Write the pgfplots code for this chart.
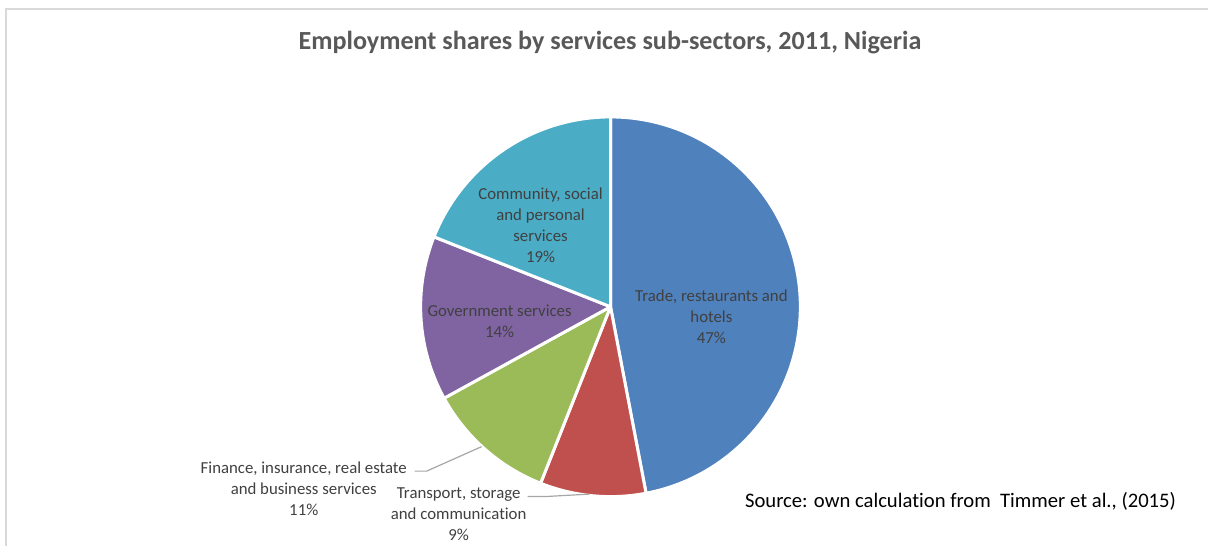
\documentclass[border=0pt]{standalone}
\usepackage{pgfplots}
\pgfplotsset{compat=1.18}
\usepackage{fontspec}
\setmainfont{Carlito}[Ligatures={NoCommon}]

\definecolor{cTrade}{HTML}{4F81BD}
\definecolor{cTransport}{HTML}{C0504D}
\definecolor{cFinance}{HTML}{9BBB59}
\definecolor{cGovernment}{HTML}{8064A2}
\definecolor{cCommunity}{HTML}{4BACC6}
\definecolor{labelgray}{HTML}{404040}
\definecolor{titlegray}{HTML}{595959}
\definecolor{leadergray}{HTML}{A6A6A6}
\definecolor{framegray}{HTML}{D9D9D9}

% pie geometry (axis units)
\newcommand{\pieCX}{611}
\newcommand{\pieCY}{307}
\newcommand{\pieR}{190}
\gdef\piecum{0}

% one slice: share in percent, fill colour; slices run clockwise from 12 o'clock
\newcommand{\pieslice}[2]{%
  \pgfmathsetmacro\angA{90-3.6*\piecum}%
  \pgfmathsetmacro\angB{90-3.6*(\piecum+#1)}%
  \edef\doslice{\noexpand\addplot[fill=#2, draw=white, line width=2.25pt,
      line join=round, domain=\angB:\angA, samples=120, variable=\noexpand\t]
    ({\pieCX+\pieR*cos(\noexpand\t)},{\pieCY-\pieR*sin(\noexpand\t)})
    -- (axis cs:\pieCX,\pieCY) -- cycle;}%
  \doslice
  \pgfmathsetmacro\newcum{\piecum+#1}%
  \xdef\piecum{\newcum}%
}

\begin{document}
\begin{tikzpicture}
\begin{axis}[
  x=0.75pt, y=0.75pt,
  xmin=0, xmax=1209, ymin=0, ymax=546,
  y dir=reverse,
  hide axis,
  clip=false,
  every node/.style={inner sep=0pt},
]
  % invisible box fixing the extent
  \path (axis cs:0,0) rectangle (axis cs:1209,546);

  % chart frame
  \draw[framegray, line width=1.5pt] (axis cs:6.5,546) -- (axis cs:6.5,9) -- (axis cs:1209,9);

  % employment shares (%)
  \pieslice{47}{cTrade}
  \pieslice{9}{cTransport}
  \pieslice{11}{cFinance}
  \pieslice{14}{cGovernment}
  \pieslice{19}{cCommunity}

  % title
  \node[anchor=base, text=titlegray, font=\fontsize{19.6}{23}\selectfont\bfseries]
    at (axis cs:610.5,50) {Employment shares by services sub-sectors, 2011, Nigeria};

  % data labels inside slices
  \begin{scope}[every node/.style={align=center, text=labelgray,
      font=\fontsize{12.6}{15.75}\selectfont}]
    \node at (axis cs:712,317) {Trade, restaurants and\\hotels\\47\%};
    \node at (axis cs:541,225) {Community, social\\and personal\\services\\19\%};
    \node at (axis cs:500,322) {Government services\\14\%};
    \node at (axis cs:304,489) {Finance, insurance, real estate\\and business services\\11\%};
    \node at (axis cs:459,515) {Transport, storage\\and communication\\9\%};
  \end{scope}

  % leader lines
  \draw[leadergray, line width=0.9pt] (axis cs:415,471.5) -- (axis cs:427,471.5) -- (axis cs:482,447);
  \draw[leadergray, line width=0.9pt] (axis cs:528,497) -- (axis cs:545,497) -- (axis cs:590,494.5);

  % source note
  \node[anchor=base west, text=black, font=\fontsize{15.5}{18}\selectfont]
    at (axis cs:741,508) {Source: own calculation from\ \ Timmer et al., (2015)};
\end{axis}
\end{tikzpicture}
\end{document}
